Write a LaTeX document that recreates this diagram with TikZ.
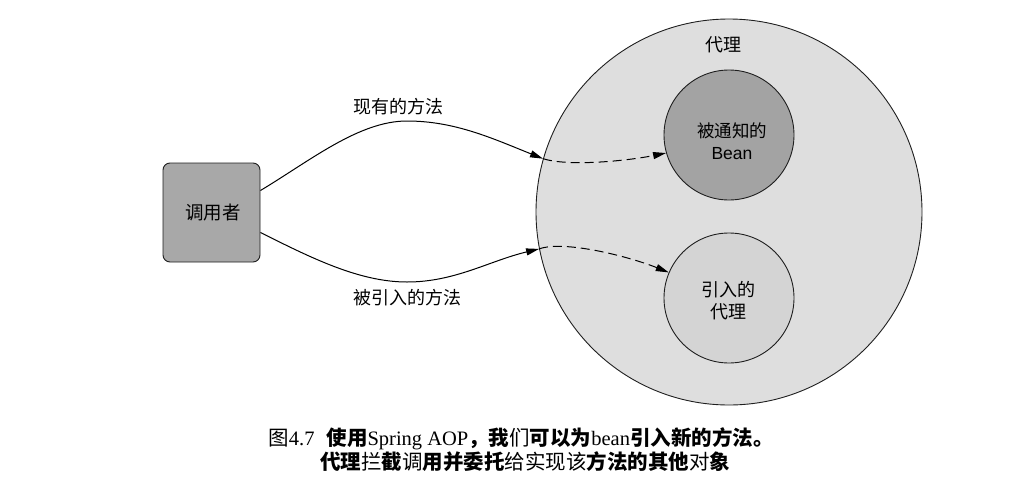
\documentclass[tikz,border=0pt]{standalone}
\usepackage{fontspec}
\setmainfont{Liberation Serif}
\setsansfont{Liberation Sans}
\newfontfamily\cjk{Noto Sans CJK SC}
\newcommand\cjkb{\cjk\bfseries}
\usetikzlibrary{arrows.meta}

\definecolor{proxyfill}{gray}{0.87}
\definecolor{beanfill}{gray}{0.64}
\definecolor{introfill}{gray}{0.83}
\definecolor{callerfill}{gray}{0.66}
\definecolor{linegray}{gray}{0.12}

\tikzset{
  ring/.style={circle, draw=linegray, line width=0.9pt, inner sep=0pt},
  callerbox/.style={draw=linegray, line width=0.9pt, rounded corners=7pt, fill=callerfill,
    minimum width=97pt, minimum height=99pt, inner sep=0pt},
  lbl/.style={font=\cjk\fontsize{18}{22}\selectfont, align=center},
  flow/.style={draw=black, line width=1pt, -{Triangle[length=13pt,width=7pt]}},
  inner flow/.style={flow, dash pattern=on 9pt off 5pt},
  caption/.style={font=\fontsize{20.5}{24}\selectfont}
}

\begin{document}
\begin{tikzpicture}[x=1pt, y=-1pt]
  \useasboundingbox (0,0) rectangle (1026,501);

  % proxy with the advised bean and the introduction proxy inside
  \node[ring, fill=proxyfill, minimum size=386pt] (proxy) at (729,212) {};
  \node[lbl] (proxylabel) at (723,45) {代理};
  \node[ring, fill=beanfill, minimum size=130pt] (bean) at (729,135) {};
  \node[lbl, font=\fontsize{17.5}{22}\selectfont] (beantext) at (732,141)
    {{\cjk 被通知的}\\{\sffamily Bean}};
  \node[ring, fill=introfill, minimum size=130pt] (intro) at (729,298) {};
  \node[lbl] (introtext) at (728,301) {引入的\\代理};

  % caller
  \node[callerbox] (caller) at (211.5,212.5) {};
  \node[lbl, font=\cjk\fontsize{18.5}{22}\selectfont] (callertext) at (213,213) {调用者};

  % bends of the two outer calls
  \coordinate (topbend) at (407,121);
  \coordinate (botbend) at (407,282);

  % existing method: caller -> proxy -> advised bean
  \draw[flow] ([yshift=22pt]caller.east)
     .. controls +(50,-30) and +(-48,0) .. (topbend)
     .. controls +(48,0) and +(-50,-20) .. (proxy.164.7);
  \draw[inner flow] (proxy.164.7)
     .. controls +(25,8) and +(-40,8) .. (bean.196);

  % introduced method: caller -> proxy -> introduction proxy
  \draw[flow] ([yshift=-20pt]caller.east)
     .. controls +(50,25) and +(-48,0) .. (botbend)
     .. controls +(48,0) and +(-50,12) .. (proxy.191.5);
  \draw[inner flow] (proxy.191.5)
     .. controls +(25,-9) and +(-40,-16) .. (intro.157);

  \node[lbl] (existing) at (398,107) {现有的方法};
  \node[lbl] (introduced) at (407,298) {被引入的方法};

  % caption
  \node[caption] (cap1) at (521,439)
    {{\cjk 图}4.7\hspace{12pt}{\cjkb 使用}Spring AOP{\cjkb ，我}{\cjk 们}{\cjkb 可以为}bean{\cjkb 引入新的方法。}};
  \node[caption] (cap2) at (525,462)
    {{\cjkb 代理}{\cjk 拦}{\cjkb 截}{\cjk 调}{\cjkb 用并委托}{\cjk 给实现该}{\cjkb 方法的其他}{\cjk 对}{\cjkb 象}};
\end{tikzpicture}
\end{document}
